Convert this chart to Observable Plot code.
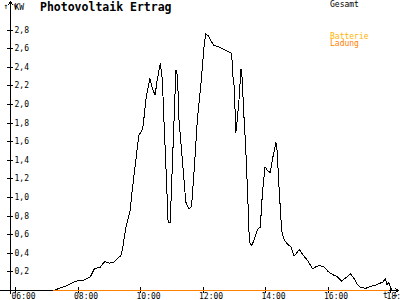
<!DOCTYPE html>
<html><head><meta charset="utf-8">
<script src="https://cdn.jsdelivr.net/npm/d3@7"></script>
<script src="https://cdn.jsdelivr.net/npm/@observablehq/plot@0.6"></script>
<style>html,body{margin:0;padding:0;background:#fff;overflow:hidden;} svg{display:block}</style>
</head><body><div id="chart"></div>
<script>
const title = "Photovoltaik Ertrag";
const unit = "KW";
const legendGesamt = "Gesamt";
const legendBatterie = "Batterie";
const legendLadung = "Ladung";
const colorGesamt = "#000000";
const colorBatterie = "#ffb400";
const colorLadung = "#ff8000";

const times = ["07:13","07:30","07:38","07:55","08:11","08:24","08:32","08:42","08:51","09:00",
"09:08","09:22","09:25","09:32","09:40","09:44","09:54","09:57","10:02","10:05",
"10:11","10:18","10:23","10:28","10:32","10:38","10:42","10:45","10:50","10:53",
"10:57","11:08","11:11","11:14","11:21","11:27","11:33","11:38","11:43","11:49",
"11:56","12:02","12:05","12:10","12:15","12:20","12:34","12:55","12:58","13:00",
"13:03","13:05","13:09","13:13","13:15","13:19","13:22","13:26","13:29","13:33",
"13:38","13:45","13:50","13:54","13:59","14:04","14:09","14:14","14:20","14:22",
"14:26","14:31","14:36","14:44","14:49","14:55","15:05","15:11","15:21","15:31",
"15:35","15:43","15:53","16:01","16:09","16:17","16:26","16:35","16:43","16:49",
"16:56","17:03","17:13","17:23","17:32","17:45","17:50","17:53","17:57","18:01","18:04"];
const gesamt = [0,0.035,0.05,0.10,0.11,0.15,0.24,0.245,0.31,0.295,
0.30,0.375,0.43,0.68,0.86,1.07,1.54,1.67,1.71,1.77,
2.08,2.28,2.17,2.10,2.26,2.44,2.26,1.83,1.18,0.73,
0.73,2.37,2.31,1.83,1.36,0.95,0.88,0.90,1.29,1.83,
2.22,2.62,2.76,2.74,2.69,2.64,2.61,2.55,2.26,2.19,
1.70,1.79,2.04,2.38,2.29,1.83,1.54,1.00,0.52,0.48,
0.54,0.66,0.68,1.04,1.33,1.29,1.27,1.43,1.59,1.52,
1.11,0.645,0.54,0.49,0.47,0.37,0.44,0.39,0.32,0.23,
0.25,0.27,0.25,0.20,0.17,0.15,0.10,0.14,0.18,0.14,
0.065,0.03,0.025,0.046,0.06,0.09,0.126,0.065,0.086,0.02,0];

const ladungTimes = ["07:13","17:55"];
const ladung = [0, 0];

const xTickLabels = ["06:00","08:00","10:00","12:00","14:00","16:00","18:00"];
const yTickValues = [0.2,0.4,0.6,0.8,1.0,1.2,1.4,1.6,1.8,2.0,2.2,2.4,2.6,2.8];

const parse = s => { const [h, m] = s.split(":").map(Number); return new Date(Date.UTC(2024, 0, 1, h, m)); };
const gesamtData = times.map((t, i) => ({t: parse(t), v: gesamt[i]}));
const ladungData = ladungTimes.map((t, i) => ({t: parse(t), v: ladung[i]}));
const xTicks = xTickLabels.map(parse);

const xMin = parse("06:00"), xMax = parse("18:00");
const W = 400, H = 300, mL = 15, mR = 10, mT = 11, mB = 10;
const msPerPx = (xMax - xMin) / (W - mL - mR);
const kwPerPx = 3 / (H - mT - mB);
const xAt = px => new Date(+xMin + (px - mL) * msPerPx); // axis decoration helper
const fmt = d => d3.format(".1f")(d).replace(".", ",");

const chart = Plot.plot({
  width: W, height: H,
  marginLeft: mL, marginRight: mR, marginTop: mT, marginBottom: mB,
  style: {fontFamily: "DejaVu Sans Mono", fontSize: "8px", background: "#fff", shapeRendering: "crispEdges"},
  x: {type: "utc", domain: [xMin, xMax], axis: null},
  y: {domain: [0, 3], axis: null},
  marks: [
    // axes
    Plot.arrow([0], {x1: xAt(0), x2: xAt(398), y1: 0, y2: 0, stroke: "black", strokeWidth: 1, headLength: 6}),
    Plot.arrow([0], {x1: xAt(10), x2: xAt(10), y1: -3 * kwPerPx, y2: 289 * kwPerPx, stroke: "black", strokeWidth: 1, headLength: 6}),
    Plot.ruleY(yTickValues, {y: d => d, x1: xAt(7), x2: xAt(13), stroke: "black"}),
    Plot.ruleX(xTicks, {x: d => d, y1: -3 * kwPerPx, y2: 3 * kwPerPx, stroke: "black"}),
    Plot.axisX({ticks: xTicks, tickSize: 0, tickPadding: 3, tickFormat: d3.utcFormat("%H:%M"), textAnchor: "start", dx: -4, fill: "black"}),
    Plot.axisY({ticks: yTickValues, tickSize: 0, tickPadding: 0, textAnchor: "start", dx: -1, tickFormat: fmt, fill: "black"}),
    // series
    Plot.line(gesamtData, {x: "t", y: "v", stroke: colorGesamt, strokeWidth: 1}),
    Plot.line(ladungData, {x: "t", y: "v", stroke: colorLadung, strokeWidth: 1.5}),
    // texts
    Plot.text([unit], {frameAnchor: "top-left", text: d => d, textAnchor: "start", lineAnchor: "bottom", dx: -1, dy: -2, fill: "black"}),
    Plot.text([title], {frameAnchor: "top-left", text: d => d, textAnchor: "start", lineAnchor: "bottom", dx: 24.5, dy: -1, fontSize: 11.5, fontWeight: "bold", fill: "black"}),
    Plot.text([legendGesamt], {frameAnchor: "top-left", text: d => d, textAnchor: "start", lineAnchor: "bottom", dx: 314.5, dy: -4.3, fill: colorGesamt}),
    Plot.text([legendBatterie], {frameAnchor: "top-left", text: d => d, textAnchor: "start", lineAnchor: "bottom", dx: 314.5, dy: 27.3, fill: colorBatterie}),
    Plot.text([legendLadung], {frameAnchor: "top-left", text: d => d, textAnchor: "start", lineAnchor: "bottom", dx: 314.5, dy: 34.3, fill: colorLadung})
  ]
});
document.getElementById("chart").appendChild(chart);
</script>
</body></html>
